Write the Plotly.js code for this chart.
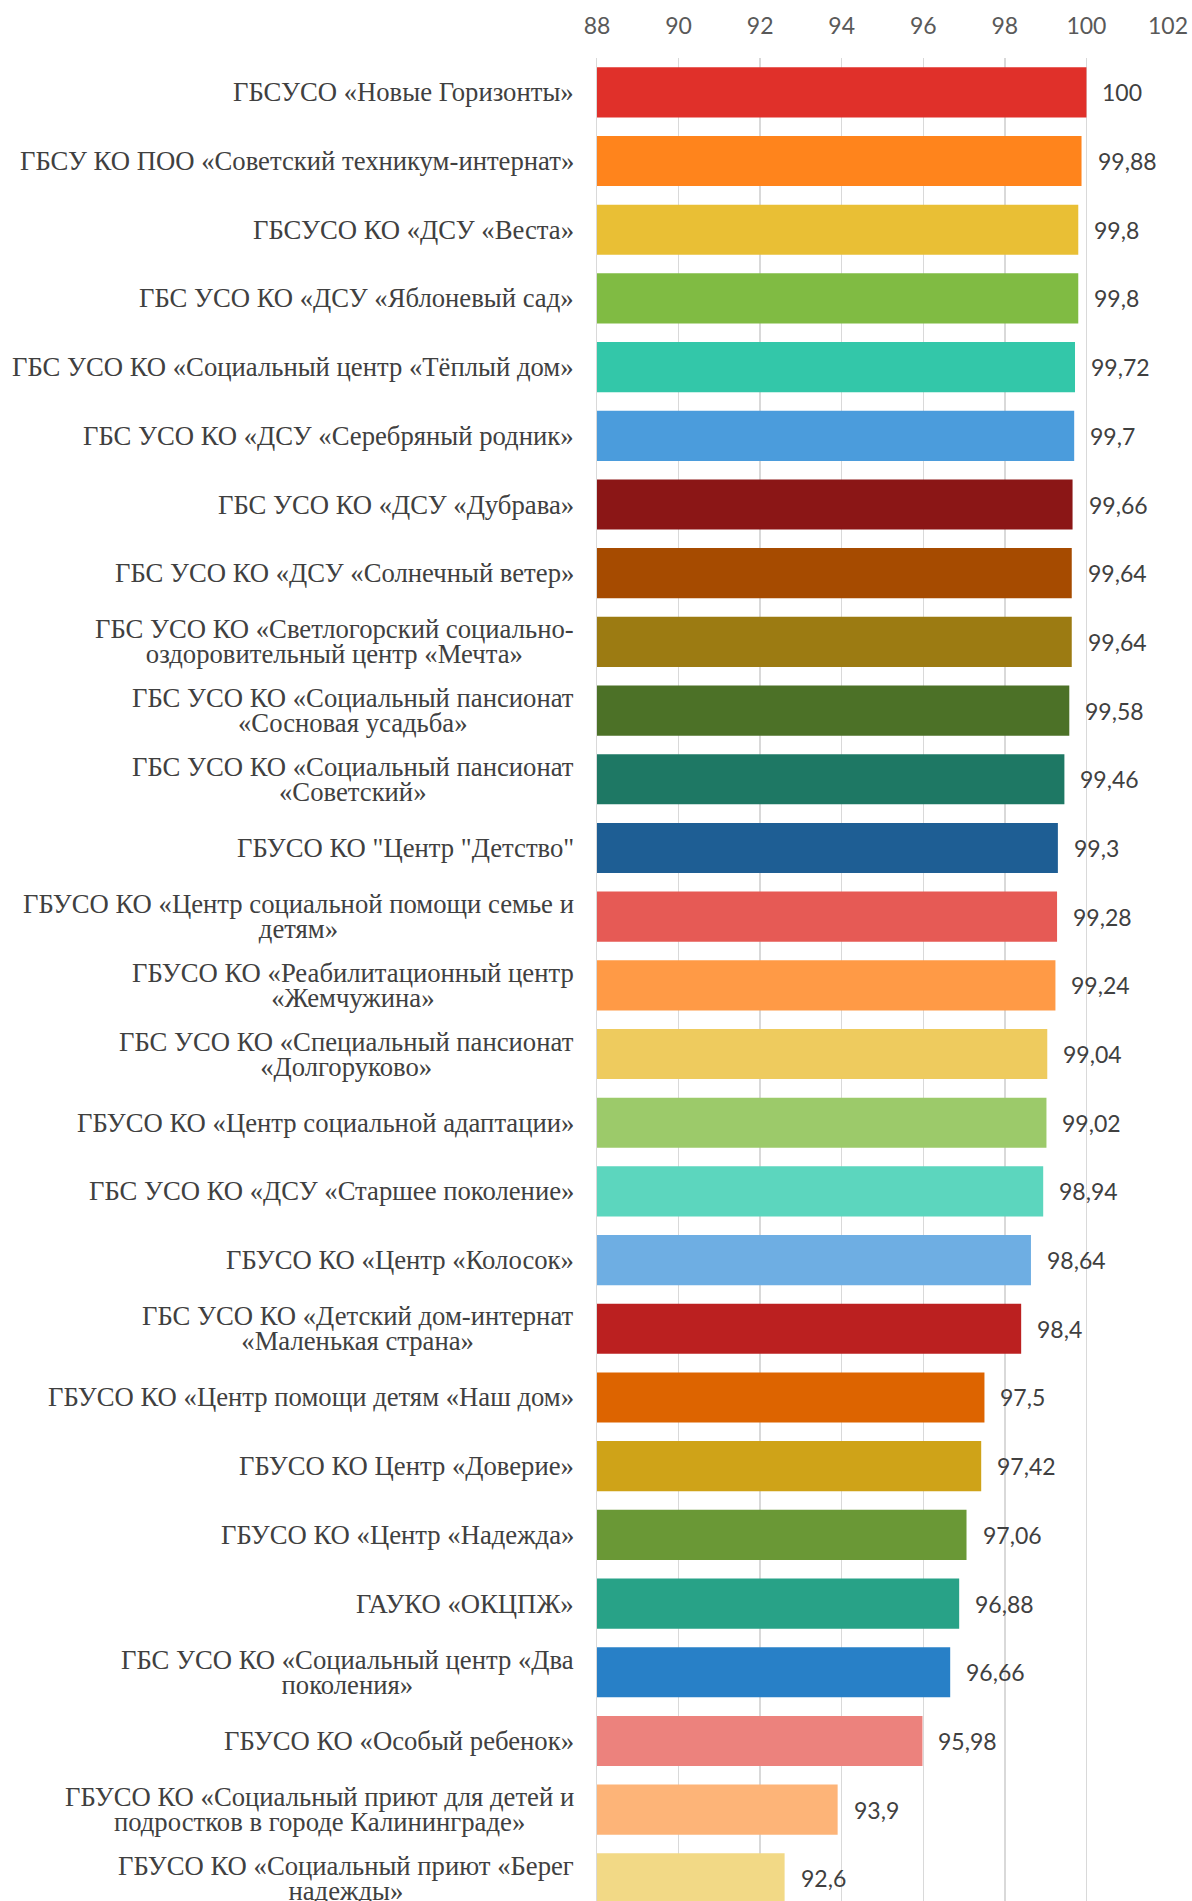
<!DOCTYPE html>
<html>
<head>
<meta charset="utf-8">
<script src="https://cdn.plot.ly/plotly-3.0.1.min.js"></script>
<style>
  html, body { margin: 0; padding: 0; background: #ffffff; overflow: hidden; }
  #chart { width: 1192px; height: 1901px; }
</style>
</head>
<body>
<div id="chart"></div>
<script>
const categories = [
  "ГБСУСО «Новые Горизонты»",
  "ГБСУ КО ПОО «Советский техникум-интернат»",
  "ГБСУСО КО «ДСУ «Веста»",
  "ГБС УСО КО «ДСУ «Яблоневый сад»",
  "ГБС УСО КО «Социальный центр «Тёплый дом»",
  "ГБС УСО КО «ДСУ «Серебряный родник»",
  "ГБС УСО КО «ДСУ «Дубрава»",
  "ГБС УСО КО «ДСУ «Солнечный ветер»",
  "ГБС УСО КО «Светлогорский социально-<br>оздоровительный центр «Мечта»",
  "ГБС УСО КО «Социальный пансионат<br>«Сосновая усадьба»",
  "ГБС УСО КО «Социальный пансионат<br>«Советский»",
  "ГБУСО КО \"Центр \"Детство\"",
  "ГБУСО КО «Центр социальной помощи семье и<br>детям»",
  "ГБУСО КО «Реабилитационный центр<br>«Жемчужина»",
  "ГБС УСО КО «Специальный пансионат<br>«Долгоруково»",
  "ГБУСО КО «Центр социальной адаптации»",
  "ГБС УСО КО «ДСУ «Старшее поколение»",
  "ГБУСО КО «Центр «Колосок»",
  "ГБС УСО КО «Детский дом-интернат<br>«Маленькая страна»",
  "ГБУСО КО «Центр помощи детям «Наш дом»",
  "ГБУСО КО Центр «Доверие»",
  "ГБУСО КО «Центр «Надежда»",
  "ГАУКО «ОКЦПЖ»",
  "ГБС УСО КО «Социальный центр «Два<br>поколения»",
  "ГБУСО КО «Особый ребенок»",
  "ГБУСО КО «Социальный приют для детей и<br>подростков в городе Калининграде»",
  "ГБУСО КО «Социальный приют «Берег<br>надежды»"
];

const scores = [
  100, 99.88, 99.8, 99.8, 99.72, 99.7, 99.66, 99.64, 99.64, 99.58,
  99.46, 99.3, 99.28, 99.24, 99.04, 99.02, 98.94, 98.64, 98.4, 97.5,
  97.42, 97.06, 96.88, 96.66, 95.98, 93.9, 92.6
];

const barColors = [
  "#E0302A", "#FF841C", "#E9BF35", "#80BB43", "#33C7A9", "#4B9CDC",
  "#8B1616", "#A64B00", "#9C7B12", "#4C7127", "#1E7864", "#1E5E94",
  "#E65A55", "#FF9A46", "#EECB5E", "#9CCA6A", "#5CD6BE", "#6EAEE3",
  "#BB2020", "#DD6400", "#CFA318", "#6A9836", "#28A287", "#2880C7",
  "#EC827D", "#FDB478", "#F2D986"
];

const xTickVals = [88, 90, 92, 94, 96, 98, 100, 102];

function fmt(v) { return String(v).replace('.', ','); }

const trace = {
  type: 'bar',
  orientation: 'h',
  x: scores,
  y: categories,
  marker: { color: barColors, line: { width: 0 } },
  hoverinfo: 'none',
  cliponaxis: true
};

const labelAnnotations = categories.map(function (c) {
  const lines = c.split('<br>');
  const txt = lines.map(function (l) {
    return '<span style="font-size:26.7px">' + l + '</span>';
  }).join('<br>');
  return {
    x: 0, xref: 'paper', xanchor: 'right', xshift: -21,
    y: c, yref: 'y', yanchor: 'middle',
    text: txt, showarrow: false, align: 'center',
    font: { family: 'Liberation Serif, Times New Roman, serif', size: 19.6, color: '#404040' }
  };
});

const valueAnnotations = scores.map(function (v, i) {
  return {
    x: v, xref: 'x', xanchor: 'left', xshift: 14,
    y: categories[i], yref: 'y', yanchor: 'middle',
    text: fmt(v), showarrow: false,
    font: { family: 'Lato, sans-serif', size: 23, color: '#404040' }
  };
});

const layout = {
  width: 1192,
  height: 1901,
  margin: { l: 597, r: 24, t: 58, b: 0, pad: 0 },
  paper_bgcolor: '#ffffff',
  plot_bgcolor: '#ffffff',
  showlegend: false,
  bargap: 0.27,
  xaxis: {
    side: 'top',
    range: [88, 102],
    tickvals: xTickVals,
    ticktext: xTickVals.map(String),
    showgrid: true,
    gridcolor: '#d9d9d9',
    gridwidth: 1.5,
    zeroline: false,
    showline: false,
    ticks: '',
    ticklabelstandoff: 18,
    tickfont: { family: 'Lato, sans-serif', size: 23, color: '#595959' },
    fixedrange: true
  },
  yaxis: {
    type: 'category',
    range: [26.33, -0.5],
    showticklabels: false,
    showgrid: false,
    zeroline: false,
    showline: true,
    linecolor: '#d9d9d9',
    linewidth: 1.5,
    ticks: '',
    fixedrange: true
  },
  annotations: labelAnnotations.concat(valueAnnotations)
};

Plotly.newPlot('chart', [trace], layout, { displayModeBar: false, staticPlot: true });
</script>
</body>
</html>
